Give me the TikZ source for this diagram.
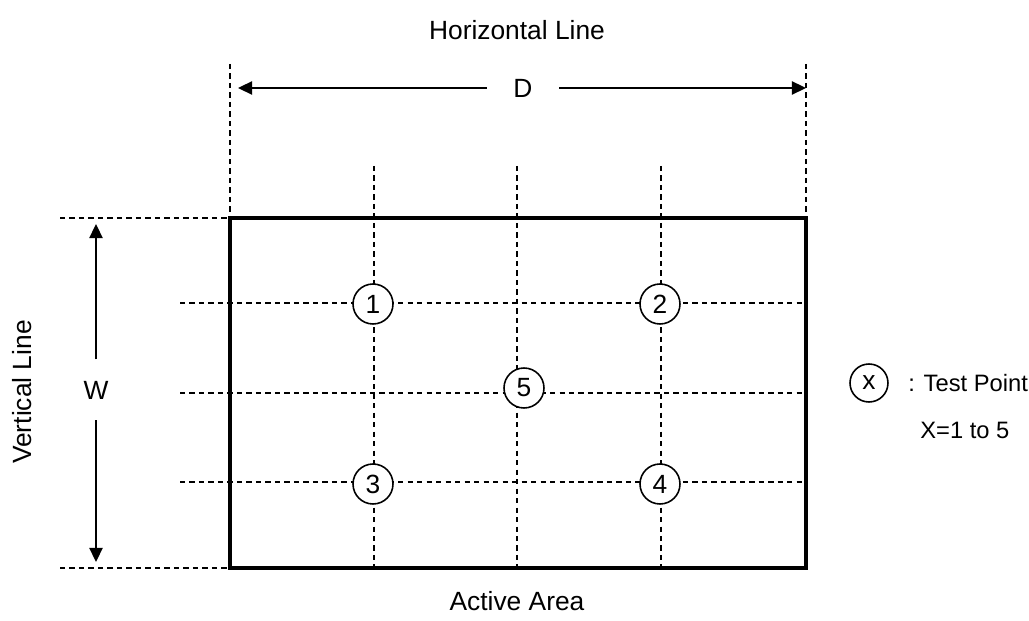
\documentclass[tikz,border=0pt]{standalone}
\usepackage{fontspec}
\setmainfont{Liberation Sans}
\usetikzlibrary{arrows.meta}

\begin{document}
\begin{tikzpicture}[x=0.02cm,y=-0.02cm,>={Triangle[length=8pt,width=7.5pt]},
  font=\fontsize{15}{18}\selectfont,
  grid/.style={dash pattern=on 3pt off 2.4pt,line width=0.8pt},
  dim/.style={->,line width=1pt},
  tpoint/.style={circle,draw,line width=0.9pt,fill=white,minimum size=0.8cm,inner sep=0pt},
  legend/.style={anchor=west,inner sep=0pt,font=\fontsize{13.5}{16}\selectfont}]
\useasboundingbox (0,0) rectangle (1029,621);
% define the grid lines
  \foreach \gx in {374,517,661} \draw[grid] (\gx,166) -- (\gx,568);
  \foreach \gy in {303,393,482} \draw[grid] (180,\gy) -- (806,\gy);
  \draw[grid] (230,64) -- (230,218);
  \draw[grid] (806,64) -- (806,218);
  \draw[grid] (60,218) -- (230,218);
  \draw[grid] (60,568) -- (230,568);
  \draw[line width=2pt] (230,218) rectangle (806,568);

% define the test points
  \node[tpoint] (p1) at (373,304) {1};
  \node[tpoint] (p2) at (660,304) {2};
  \node[tpoint] (p5) at (524,388) {5};
  \node[tpoint] (p3) at (373,484) {3};
  \node[tpoint] (p4) at (660,484) {4};

% define the dimensions
  \coordinate (dleft) at (238,88);
  \coordinate (dright) at (806,88);
  \coordinate (wtop) at (96,224);
  \coordinate (wbot) at (96,562);
  \node[inner xsep=15pt] (D) at (523,88) {D};
  \node[inner ysep=12pt] (W) at (96,390) {W};
  \draw[dim] (D) -- (dleft);
  \draw[dim] (D) -- (dright);
  \draw[dim] (W) -- (wtop);
  \draw[dim] (W) -- (wbot);

% define the labels
  \node (hline) at (517,30) {Horizontal Line};
  \node[rotate=90] (vline) at (22,392) {Vertical Line};
  \node (area) at (517,601) {Active Area};
  \node[tpoint,minimum size=0.76cm] (px) at (869,383) {x};
  \node[legend] (tp) at (908,383) {: Test Point};
  \node[legend] (xr) at (920,430) {X=1 to 5};
\end{tikzpicture}
\end{document}
